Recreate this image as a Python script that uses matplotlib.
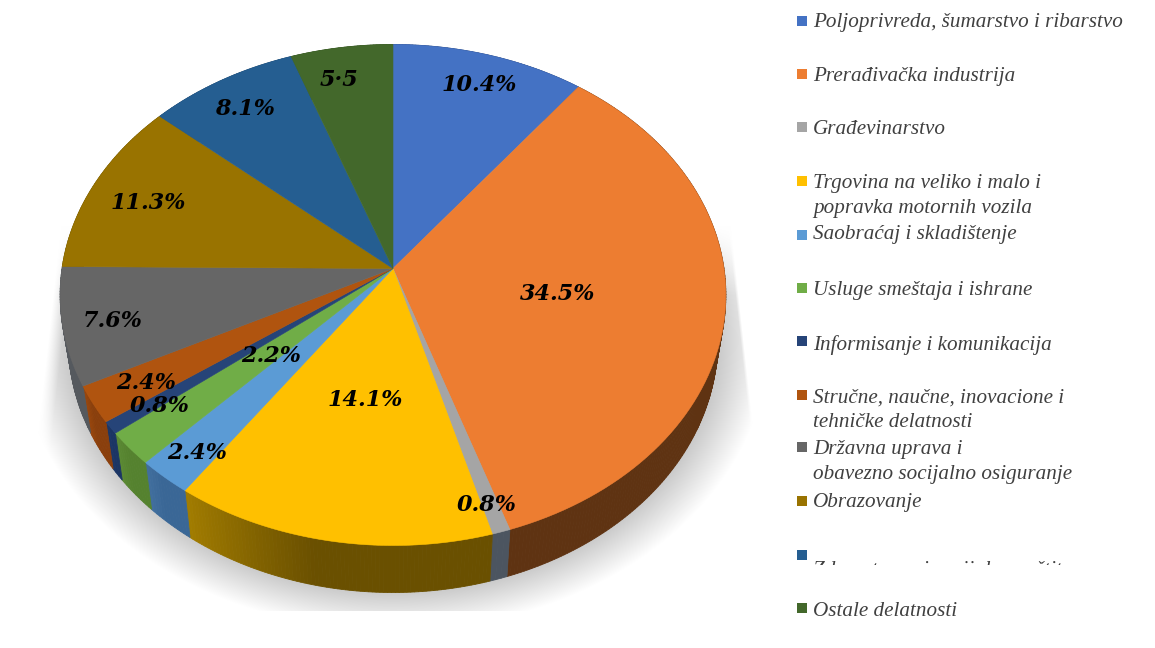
import numpy as np
import matplotlib
matplotlib.use("Agg")
import matplotlib.pyplot as plt
from matplotlib.colors import to_rgb
from matplotlib.patches import Rectangle

# slices, clockwise from 12 o'clock
categories = ["Poljoprivreda, šumarstvo i ribarstvo", "Prerađivačka industrija", "Građevinarstvo",
              "Trgovina na veliko i malo i\npopravka motornih vozila", "Saobraćaj i skladištenje",
              "Usluge smeštaja i ishrane", "Informisanje i komunikacija",
              "Stručne, naučne, inovacione i\ntehničke delatnosti",
              "Državna uprava i\nobavezno socijalno osiguranje", "Obrazovanje",
              "Zdravstvena i socijalna zaštita", "Ostale delatnosti"]
values = [10.4, 34.5, 0.8, 14.1, 2.4, 2.2, 0.8, 2.4, 7.6, 11.3, 8.1, 5.5]
value_labels = ["10.4%", "34.5%", "0.8%", "14.1%", "2.4%", "2.2%", "0.8%", "2.4%", "7.6%", "11.3%", "8.1%", "5·5"]

colors = ["#4472C4", "#ED7D31", "#A5A5A5", "#FFC000", "#5B9BD5", "#70AD47",
          "#264478", "#B0540F", "#666666", "#997300", "#255E91", "#43682B"]
wall_a = ["#2a4478", "#5f3312", "#4c5560", "#6a5000", "#3a6796", "#55822f",
          "#1b3564", "#8a3f0c", "#55595e", "#665000", "#1c4468", "#2d4a1c"]
wall_b = ["#2a4478", "#5f3312", "#4c5560", "#a37d00", "#42709f", "#5c8a34",
          "#1f3a6b", "#9a470d", "#5b5f64", "#665000", "#1c4468", "#2d4a1c"]

label_x = [479, 558, 487, 365, 197, 271, 160, 146, 113, 148, 245, 339]
label_y = [85, 294, 505, 400, 453, 356, 406, 383, 321, 203, 109, 80]

legend_y = [21, 74, 127, 181, 235, 288, 341, 395, 447, 501, 555, 608]
legend_text_y = [23, 77, 130, 196, 235, 291, 345, 410, 462, 503, 570, 611]

# perspective of the pie in pixels
cx, cy = 393, 268.5
a, b, k = 331, 247.7, 0.1058
depth = 47
shrink = 0.975


def rim(t):
    u, v = np.sin(t), np.cos(t)
    w = 1 + k * v
    return cx + a * u / w, cy - b * v / w


def lower(x, y):
    return cx + shrink * (x - cx), y + depth


def mix(c1, c2, f):
    return tuple((1 - f) * np.array(to_rgb(c1)) + f * np.array(to_rgb(c2)))


fig = plt.figure(figsize=(11.55, 6.48), dpi=100)
ax = fig.add_axes([0, 0, 1, 1])
ax.set_xlim(0, 1155)
ax.set_ylim(648, 0)
ax.axis("off")

# soft shadow behind the pie
yy, xx = np.mgrid[0:648, 0:1155]
r = np.sqrt(((xx - cx) / 375.0) ** 2 + ((yy - 340) / 290.0) ** 2)
shade = np.clip((1.0 - r) / 0.14, 0, 1)
shade = shade * np.clip((yy - 225) / 70.0, 0, 1)
right_edge = 728 + (yy - 230) * 0.11
left_edge = 60 - (yy - 230) * 0.11
shade = shade * np.clip((right_edge - xx) / 3.0 + 1, 0, 1)
shade = shade * np.clip((xx - left_edge) / 14.0, 0, 1)
shade[yy > 610] = 0
img = 1 - 0.22 * shade
ax.imshow(np.dstack([img, img, img]), extent=(0, 1155, 648, 0), zorder=0, aspect="auto")
ax.set_xlim(0, 1155)
ax.set_ylim(648, 0)

edges = np.cumsum([0] + values) / sum(values) * 2 * np.pi

# walls first, top face covers the hidden part
for i in range(len(values)):
    ts = np.linspace(edges[i], edges[i + 1], max(3, int(values[i] * 6)))
    for j in range(len(ts) - 1):
        x1, y1 = rim(ts[j])
        x2, y2 = rim(ts[j + 1])
        x3, y3 = lower(x2, y2)
        x4, y4 = lower(x1, y1)
        f = np.clip((j / (len(ts) - 1) - 0.55) / 0.45, 0, 1)
        c = mix(wall_a[i], wall_b[i], f)
        ax.fill([x1, x2, x3, x4], [y1, y2, y3, y4], color=c, lw=0.6, zorder=2)

for i in range(len(values)):
    ts = np.linspace(edges[i], edges[i + 1], 80)
    xs, ys = rim(ts)
    ax.fill(np.r_[cx, xs], np.r_[cy, ys], color=colors[i], lw=0.4, zorder=3)

for i in range(len(values)):
    ax.text(label_x[i], label_y[i], value_labels[i], family="DejaVu Serif", style="italic", weight="bold",
            fontsize=16, ha="center", va="center", color="black", zorder=5)

# legend by hand, one entry is cut off in the source
for i in range(len(categories)):
    ax.add_patch(Rectangle((797, legend_y[i] - 5), 10, 10, color=colors[i], lw=0, zorder=4))
    t = ax.text(813, legend_text_y[i], categories[i], family="Liberation Serif", style="italic",
                fontsize=15.2, ha="left", va="center", color="#404040", linespacing=1.39, zorder=5)
    if categories[i].startswith("Zdravstvena"):
        t.set_clip_path(Rectangle((780, 0), 375, 565, transform=ax.transData))
        t.set_clip_on(True)

fig.savefig("out.png", dpi=100)
